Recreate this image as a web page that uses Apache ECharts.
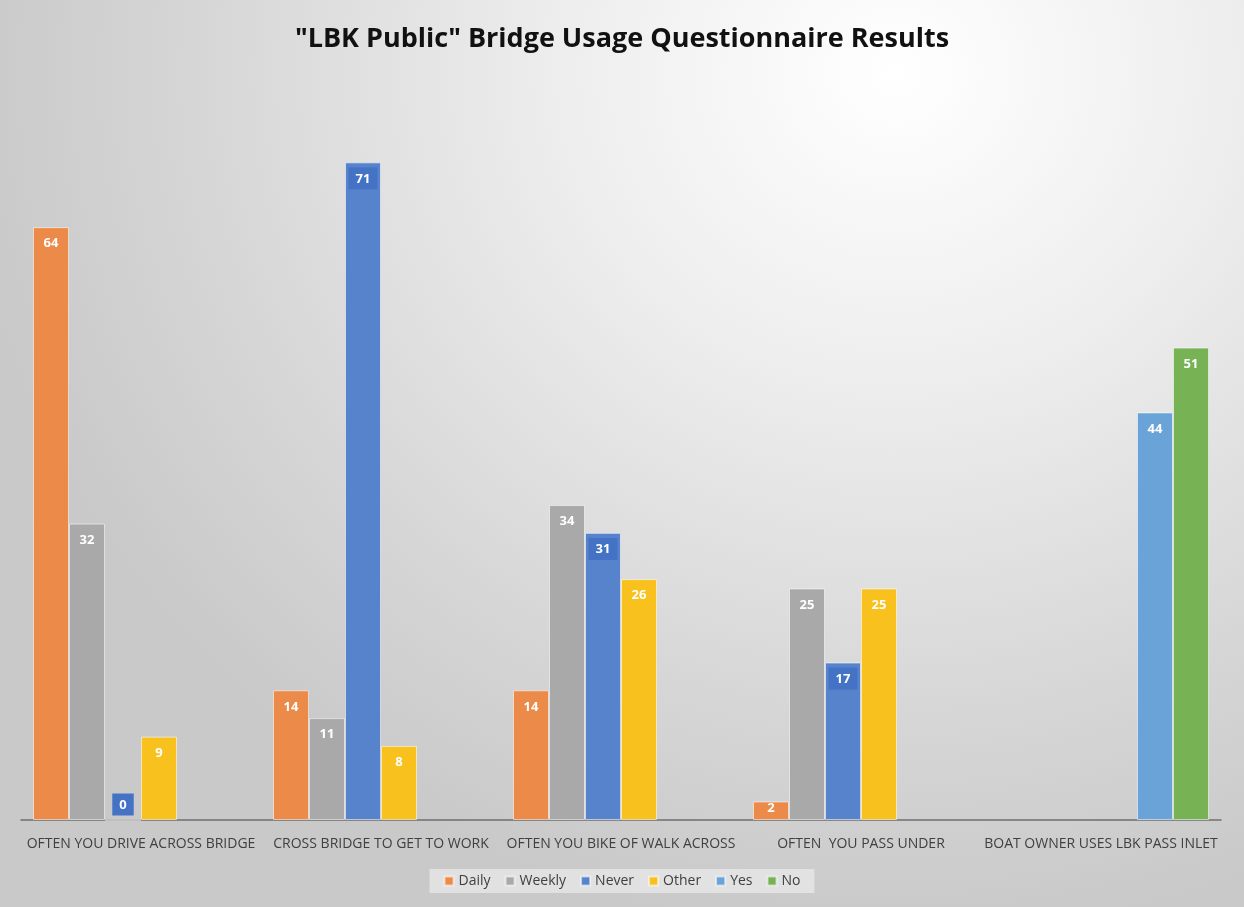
<!DOCTYPE html>
<html>
<head>
<meta charset="utf-8">
<script src="https://cdn.jsdelivr.net/npm/echarts@6/dist/echarts.min.js"></script>
<style>
html,body{margin:0;padding:0;}
#c{width:1244px;height:907px;background:radial-gradient(ellipse 75% 95% at 72% 8%, #ffffff 0%, #eeeeee 35%, #d6d6d6 75%, #c9c9c9 100%);}
</style>
</head>
<body>
<div id="c"></div>
<script>
const categories = ["OFTEN YOU DRIVE ACROSS BRIDGE", "CROSS BRIDGE TO GET TO WORK", "OFTEN YOU BIKE OF WALK ACROSS", "OFTEN  YOU PASS UNDER", "BOAT OWNER USES LBK PASS INLET"];
const seriesNames = ["Daily", "Weekly", "Never", "Other", "Yes", "No"];
const daily  = [64, 14, 14, 2, null];
const weekly = [32, 11, 34, 25, null];
const never  = [0, 71, 31, 17, null];
const other  = [9, 8, 26, 25, null];
const yes    = [null, null, null, null, 44];
const no     = [null, null, null, null, 51];
const colors = ["#EC8A4A", "#A9A9A9", "#5683CC", "#F9C11E", "#6AA3D8", "#77B255"];

const chart = echarts.init(document.getElementById('c'), null, {renderer: 'canvas'});
const baseLabel = {show: true, position: 'insideTop', distance: 10, color: '#ffffff', fontWeight: 'bold', fontSize: 13, fontFamily: 'Open Sans'};
function mk(name, arr, idx) {
  const s = {
    name: name, type: 'bar', barGap: '0%', barCategoryGap: '10%',
    itemStyle: {color: colors[idx], borderColor: 'rgba(255,255,255,0.55)', borderWidth: 1},
    label: Object.assign({}, baseLabel),
    data: arr.map(v => (v !== null && v < 5) ? {value: v, label: {distance: 0}} : v)
  };
  if (name === 'Never') {
    s.label = Object.assign({}, baseLabel, {backgroundColor: '#4472C4', padding: [5, 7, 4, 7], distance: 5});
    s.data = arr.map(v => v === 0 ? {value: 0, label: {position: 'top', distance: 4}} : v);
  }
  return s;
}
const all = [daily, weekly, never, other, yes, no];
chart.setOption({
  backgroundColor: 'transparent',
  animation: false,
  title: {text: '"LBK Public" Bridge Usage Questionnaire Results', left: 'center', top: 21,
    textStyle: {fontFamily: 'Open Sans', fontWeight: 'bold', fontSize: 27, color: '#111111'}},
  legend: {bottom: 14, itemWidth: 9, itemHeight: 9, itemGap: 14, icon: 'rect',
    backgroundColor: 'rgba(235,235,235,0.7)', padding: [5, 14],
    textStyle: {fontFamily: 'Open Sans', fontSize: 14, color: '#404040'}},
  grid: {left: 21, right: 23, top: 79, bottom: 87},
  xAxis: {type: 'category', data: categories,
    axisLine: {lineStyle: {color: '#6f6f6f', width: 1.5}},
    axisTick: {show: false},
    axisLabel: {fontFamily: 'Open Sans', fontSize: 14, color: '#404040', margin: 17, interval: 0}},
  yAxis: {type: 'value', min: 0, max: 80, show: false, splitLine: {show: false}},
  series: seriesNames.map((n, i) => mk(n, all[i], i))
});
</script>
</body>
</html>
